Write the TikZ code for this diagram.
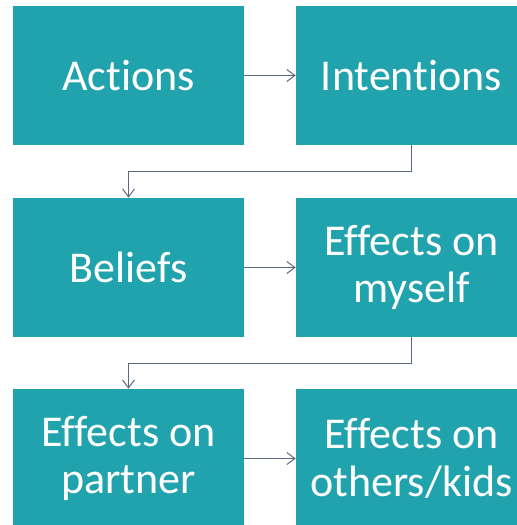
\documentclass[tikz,border=0pt]{standalone}
\usepackage{fontspec}
\setmainfont[Ligatures={NoCommon}]{Carlito}
\usetikzlibrary{arrows.meta}
\definecolor{boxteal}{RGB}{33,163,174}
\definecolor{linegray}{RGB}{92,104,126}

\begin{document}
\begin{tikzpicture}[x=0.75pt, y=-0.75pt]
        \tikzset{box/.style = {shape=rectangle, fill=boxteal, text=white, align=center,
            minimum width=173.25pt, minimum height=104.25pt, inner sep=0pt,
            font=\fontsize{33}{35.5}\selectfont}}
        \tikzset{edge/.style = {-{Straight Barb[length=6pt,width=9pt]}, draw=linegray, line width=0.75pt}}
        \useasboundingbox (0,0) rectangle (517,525);
        \clip (0,0) rectangle (517,525);
        \node[box] (1) at (128.5, 75.5) {Actions};
        \node[box] (2) at (411.5, 75.5) {Intentions};
        \node[box] (3) at (128.5, 267.5) {Beliefs};
        \node[box] (4) at (411.5, 267.5) {Effects on\\myself};
        \node[box] (5) at (128.5, 458.5) {Effects on\\partner};
        \node[box] (6) at (411.5, 458.5) {Effects on\\others/kids};

        \draw[edge] (1) to (2);
        \draw[edge] (2.south) -- ++(0,26.5) -| (3.north);
        \draw[edge] (3) to (4);
        \draw[edge] (4.south) -- ++(0,26) -| (5.north);
        \draw[edge] (5) to (6);
      \end{tikzpicture}
\end{document}
